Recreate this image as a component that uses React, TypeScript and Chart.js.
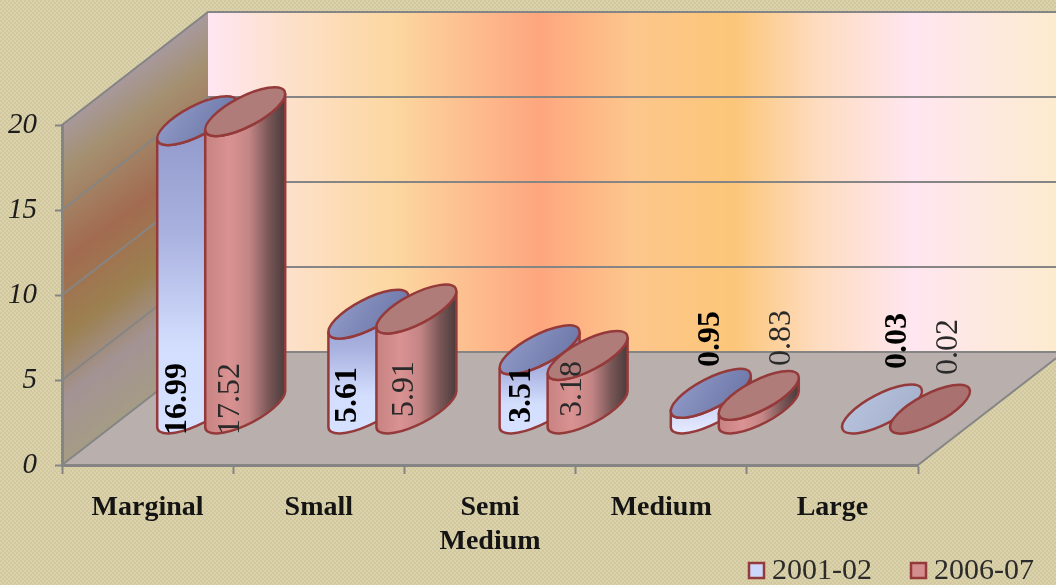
import React, { useEffect, useRef } from "react";
import { Chart, registerables } from "chart.js";

Chart.register(...registerables);

const categories = ["Marginal", "Small", ["Semi", "Medium"], "Medium", "Large"];
const series2001 = [16.99, 5.61, 3.51, 0.95, 0.03];
const series2006 = [17.52, 5.91, 3.18, 0.83, 0.02];
const seriesNames = ["2001-02", "2006-07"];
const yTicks = [0, 5, 10, 15, 20];

const W = 1056, H = 585;
const AREA = { left: 62, right: 918, top: 125, bottom: 465 };
const DEPTH_X = 146, DEPTH_Y = 113;
const CYL = { dx: 73.6, dy: -55.5, a: 44.4, b: 15, rot: (-27.5 * Math.PI) / 180 };
// label placement relative to each cylinder: [x offset, y offset of the text start from the axis]
const LABEL_PLACE = [
  [[-19, -30], [-21, -42], [-18, -42], [0, -98], [16, -96]],
  [[-15, -30], [-12, -48], [-15, -48], [23, -99], [19, -90]],
];
const EDGE = "#953a3a";
const GRID = "#858585";

function makeTexture(ctx: CanvasRenderingContext2D) {
  const c = document.createElement("canvas");
  c.width = 4; c.height = 4;
  const p = c.getContext("2d")!;
  p.fillStyle = "#d9cfa8";
  p.fillRect(0, 0, 4, 4);
  p.fillStyle = "#d2c89e";
  p.fillRect(0, 0, 2, 2);
  p.fillRect(2, 2, 2, 2);
  p.fillStyle = "#e0d7b4";
  p.fillRect(2, 0, 1, 1);
  p.fillRect(0, 2, 1, 1);
  return ctx.createPattern(c, "repeat")!;
}

const stagePlugin = {
  id: "stage",
  beforeDraw(chart: any) {
    const ctx: CanvasRenderingContext2D = chart.ctx;
    const { left, right, top, bottom } = chart.chartArea;
    const backX = left + DEPTH_X;
    const y = chart.scales.y;
    ctx.save();
    ctx.fillStyle = makeTexture(ctx);
    ctx.fillRect(0, 0, W, H);

    // back wall
    const back = ctx.createLinearGradient(backX, 0, W, 0);
    [[0, "#ffe6f2"], [0.1, "#fde0c8"], [0.22, "#fcd7a0"], [0.39, "#fea67e"], [0.5, "#fdc68c"], [0.62, "#fcc679"],
     [0.72, "#fedcc0"], [0.83, "#ffe6f0"], [1, "#fdebcf"]].forEach(([o, c]) => back.addColorStop(o as number, c as string));
    ctx.fillStyle = back;
    ctx.fillRect(backX, top - DEPTH_Y, W - backX, bottom - top);

    // left wall
    const wall = ctx.createLinearGradient(80.4, 107.2, 245.4, 327.2);
    [[0, "#a8999e"], [0.15, "#a49070"], [0.41, "#a26b50"], [0.63, "#9c8050"], [0.81, "#a39394"], [1, "#a59c85"]]
      .forEach(([o, c]) => wall.addColorStop(o as number, c as string));
    ctx.fillStyle = wall;
    ctx.beginPath();
    ctx.moveTo(left, top);
    ctx.lineTo(backX, top - DEPTH_Y);
    ctx.lineTo(backX, bottom - DEPTH_Y);
    ctx.lineTo(left, bottom);
    ctx.closePath();
    ctx.fill();

    // floor
    const slope = DEPTH_Y / DEPTH_X;
    ctx.fillStyle = "#b9b0ae";
    ctx.beginPath();
    ctx.moveTo(left, bottom);
    ctx.lineTo(backX, bottom - DEPTH_Y);
    ctx.lineTo(W, bottom - DEPTH_Y);
    ctx.lineTo(W, bottom - (W - right) * slope);
    ctx.lineTo(right, bottom);
    ctx.closePath();
    ctx.fill();

    ctx.strokeStyle = GRID;
    ctx.lineWidth = 2;
    yTicks.forEach((t) => {
      const py = y.getPixelForValue(t);
      ctx.beginPath();
      ctx.moveTo(left, py);
      ctx.lineTo(backX, py - DEPTH_Y);
      ctx.lineTo(W, py - DEPTH_Y);
      ctx.stroke();
    });
    ctx.beginPath();
    ctx.moveTo(right, bottom);
    ctx.lineTo(W, bottom - (W - right) * slope);
    ctx.stroke();
    ctx.restore();
  },
};

function cylinder(ctx: CanvasRenderingContext2D, cx: number, topY: number, baseY: number, kind: number) {
  const { a, b, rot } = CYL;
  const t0 = Math.atan2(-b * Math.sin(rot), a * Math.cos(rot));
  const hw = a * Math.cos(t0) * Math.cos(rot) - b * Math.sin(t0) * Math.sin(rot);
  const hy = a * Math.cos(t0) * Math.sin(rot) + b * Math.sin(t0) * Math.cos(rot);
  const height = baseY - topY;

  if (height > 3) {
    let side: CanvasGradient;
    if (kind === 0) {
      side = ctx.createLinearGradient(0, topY - 20, 0, baseY + 20);
      side.addColorStop(0, "#8b94c6");
      side.addColorStop(0.4, "#a9b1df");
      side.addColorStop(0.75, "#d3defe");
      side.addColorStop(1, "#d6e0ff");
      if (height < 40) {
        side = ctx.createLinearGradient(0, topY, 0, baseY + 24);
        side.addColorStop(0, "#c2cbf2");
        side.addColorStop(1, "#e6ebff");
      }
    } else {
      side = ctx.createLinearGradient(cx - hw, 0, cx + hw, 0);
      side.addColorStop(0, "#c78282");
      side.addColorStop(0.3, "#da9292");
      side.addColorStop(0.55, "#c48585");
      side.addColorStop(0.8, "#785656");
      side.addColorStop(1, "#4b3b3b");
    }
    ctx.beginPath();
    ctx.moveTo(cx - hw, topY - hy);
    ctx.lineTo(cx - hw, baseY - hy);
    ctx.ellipse(cx, baseY, a, b, rot, t0 + Math.PI, t0, true);
    ctx.lineTo(cx + hw, topY + hy);
    ctx.ellipse(cx, topY, a, b, rot, t0, t0 + Math.PI, false);
    ctx.closePath();
    ctx.fillStyle = side;
    ctx.fill();
    ctx.strokeStyle = EDGE;
    ctx.lineWidth = 2.5;
    ctx.stroke();
  }
  let cap: CanvasGradient | string;
  if (kind === 0) {
    const g = ctx.createLinearGradient(cx - hw, topY - 20, cx + hw * 0.6, topY + 20);
    if (height > 3) {
      g.addColorStop(0, "#969fcd");
      g.addColorStop(1, "#6d78a8");
    } else {
      g.addColorStop(0, "#bac5e0");
      g.addColorStop(1, "#a6b1cd");
    }
    cap = g;
  } else {
    cap = height > 3 ? "#b07c7a" : "#a9716f";
  }
  ctx.beginPath();
  ctx.ellipse(cx, topY, a, b, rot, 0, Math.PI * 2);
  ctx.fillStyle = cap;
  ctx.fill();
  ctx.strokeStyle = EDGE;
  ctx.lineWidth = 2.5;
  ctx.stroke();
}

const cylinderPlugin = {
  id: "cylinders",
  afterDatasetsDraw(chart: any) {
    const ctx: CanvasRenderingContext2D = chart.ctx;
    const zero = chart.scales.y.getPixelForValue(0);
    ctx.save();
    const count = chart.data.labels.length;
    for (let i = 0; i < count; i++) {
      chart.data.datasets.forEach((_: any, d: number) => {
        const el = chart.getDatasetMeta(d).data[i];
        cylinder(ctx, el.x + CYL.dx, el.y + CYL.dy, el.base + CYL.dy, d);
      });
    }
    ctx.fillStyle = "#000";
    ctx.textAlign = "left";
    ctx.textBaseline = "middle";
    chart.data.datasets.forEach((ds: any, d: number) => {
      ctx.font = `${d === 0 ? "bold " : ""}32px "Liberation Serif"`;
      ctx.fillStyle = d === 0 ? "#000" : "#2a2a2a";
      chart.getDatasetMeta(d).data.forEach((el: any, i: number) => {
        const [ox, oy] = LABEL_PLACE[d][i];
        ctx.save();
        ctx.translate(el.x + CYL.dx + ox, zero + oy);
        ctx.rotate(-Math.PI / 2);
        ctx.fillText(ds.data[i].toFixed(2), 0, 0);
        ctx.restore();
      });
    });

    // legend
    const swatchX = [749, 911];
    ctx.font = '30px "Liberation Serif"';
    ctx.textBaseline = "alphabetic";
    chart.data.datasets.forEach((ds: any, d: number) => {
      ctx.fillStyle = d === 0 ? "#cdd6fb" : "#d58e8e";
      ctx.fillRect(swatchX[d], 563, 15, 15);
      ctx.strokeStyle = EDGE;
      ctx.lineWidth = 2.5;
      ctx.strokeRect(swatchX[d], 563, 15, 15);
      ctx.fillStyle = "#2b2b2b";
      ctx.fillText(ds.label, swatchX[d] + 23, 579);
    });
    ctx.restore();
  },
};

export default function App() {
  const ref = useRef<HTMLCanvasElement>(null);
  useEffect(() => {
    const chart = new Chart(ref.current!, {
      type: "bar",
      data: {
        labels: categories as any,
        datasets: [
          { label: seriesNames[0], data: series2001, backgroundColor: "transparent" },
          { label: seriesNames[1], data: series2006, backgroundColor: "transparent" },
        ],
      },
      options: {
        responsive: false,
        animation: false,
        devicePixelRatio: 1,
        layout: { padding: { top: AREA.top, right: W - AREA.right, left: 0, bottom: 0 } },
        datasets: { bar: { barPercentage: 1, categoryPercentage: 96 / 171.2 } },
        plugins: { legend: { display: false }, tooltip: { enabled: false }, title: { display: false } },
        scales: {
          x: {
            offset: true,
            afterFit: (s: any) => { s.height = H - AREA.bottom; },
            border: { color: GRID, width: 3 },
            grid: { drawOnChartArea: false, drawTicks: true, tickLength: 9, tickColor: GRID, tickWidth: 2 },
            ticks: {
              autoSkip: false, maxRotation: 0, minRotation: 0, padding: 17, color: "#141414",
              font: { family: '"Liberation Serif"', size: 28, weight: "bold", lineHeight: 34 / 28 },
            },
          },
          y: {
            min: 0, max: 20,
            afterFit: (s: any) => { s.width = AREA.left; },
            border: { color: GRID, width: 3 },
            grid: { drawOnChartArea: false, drawTicks: true, tickLength: 7, tickColor: GRID, tickWidth: 2 },
            ticks: {
              stepSize: 5, padding: 18, color: "#1c1c1c",
              font: { family: '"Liberation Serif"', size: 29, style: "italic" },
            },
          },
        },
      } as any,
      plugins: [stagePlugin, cylinderPlugin],
    });
    return () => chart.destroy();
  }, []);
  return (
    <div style={{ position: "fixed", left: 0, top: 0, width: W, height: H, background: "#d6cca4", overflow: "hidden" }}>
      <canvas ref={ref} width={W} height={H} style={{ display: "block", width: W, height: H, filter: "blur(0.6px)" }} />
    </div>
  );
}
